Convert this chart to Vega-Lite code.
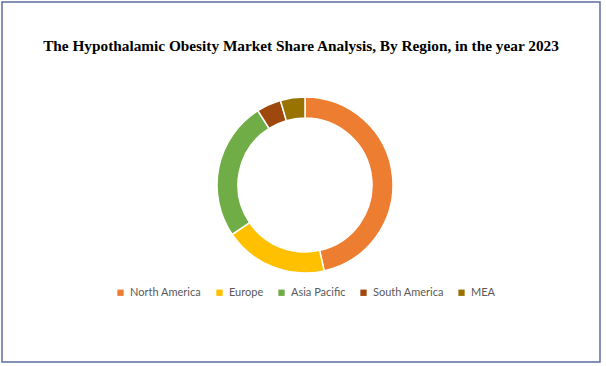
{
  "$schema": "https://vega.github.io/schema/vega-lite/v6.json",
  "width": 598,
  "height": 360,
  "padding": {"left": 2, "top": 2, "right": 6, "bottom": 4},
  "autosize": {"type": "none"},
  "background": "white",
  "view": {"stroke": "#5B6E9E", "strokeWidth": 1.5, "fill": "white"},
  "title": {
    "text": "The Hypothalamic Obesity Market Share Analysis, By Region, in the year 2023",
    "font": "Liberation Serif",
    "fontSize": 15.3,
    "fontWeight": "bold",
    "color": "#000000",
    "anchor": "middle",
    "frame": "group",
    "baseline": "top",
    "offset": -52
  },
  "data": {
    "values": [
      {"region": "North America", "share": 46.5, "rank": 1},
      {"region": "Europe", "share": 19.0, "rank": 2},
      {"region": "Asia Pacific", "share": 25.5, "rank": 3},
      {"region": "South America", "share": 4.5, "rank": 4},
      {"region": "MEA", "share": 4.5, "rank": 5}
    ]
  },
  "mark": {"type": "arc", "innerRadius": 67, "outerRadius": 88, "stroke": "white", "strokeWidth": 1.5, "xOffset": 4, "yOffset": 3},
  "encoding": {
    "theta": {"field": "share", "type": "quantitative", "stack": true},
    "order": {"field": "rank", "type": "quantitative", "sort": "ascending"},
    "color": {
      "field": "region",
      "type": "nominal",
      "sort": ["North America", "Europe", "Asia Pacific", "South America", "MEA"],
      "scale": {
        "domain": ["North America", "Europe", "Asia Pacific", "South America", "MEA"],
        "range": ["#ED7D31", "#FFC000", "#70AD47", "#9E480E", "#997300"]
      },
      "legend": {
        "title": null,
        "orient": "none",
        "legendX": 113,
        "legendY": 285,
        "direction": "horizontal",
        "symbolType": "square",
        "symbolSize": 40,
        "symbolStrokeWidth": 0,
        "labelFont": "Lato",
        "labelFontSize": 11,
        "labelColor": "#595959",
        "labelOffset": 4,
        "columnPadding": 12,
        "symbolOffset": 0
      }
    }
  }
}
